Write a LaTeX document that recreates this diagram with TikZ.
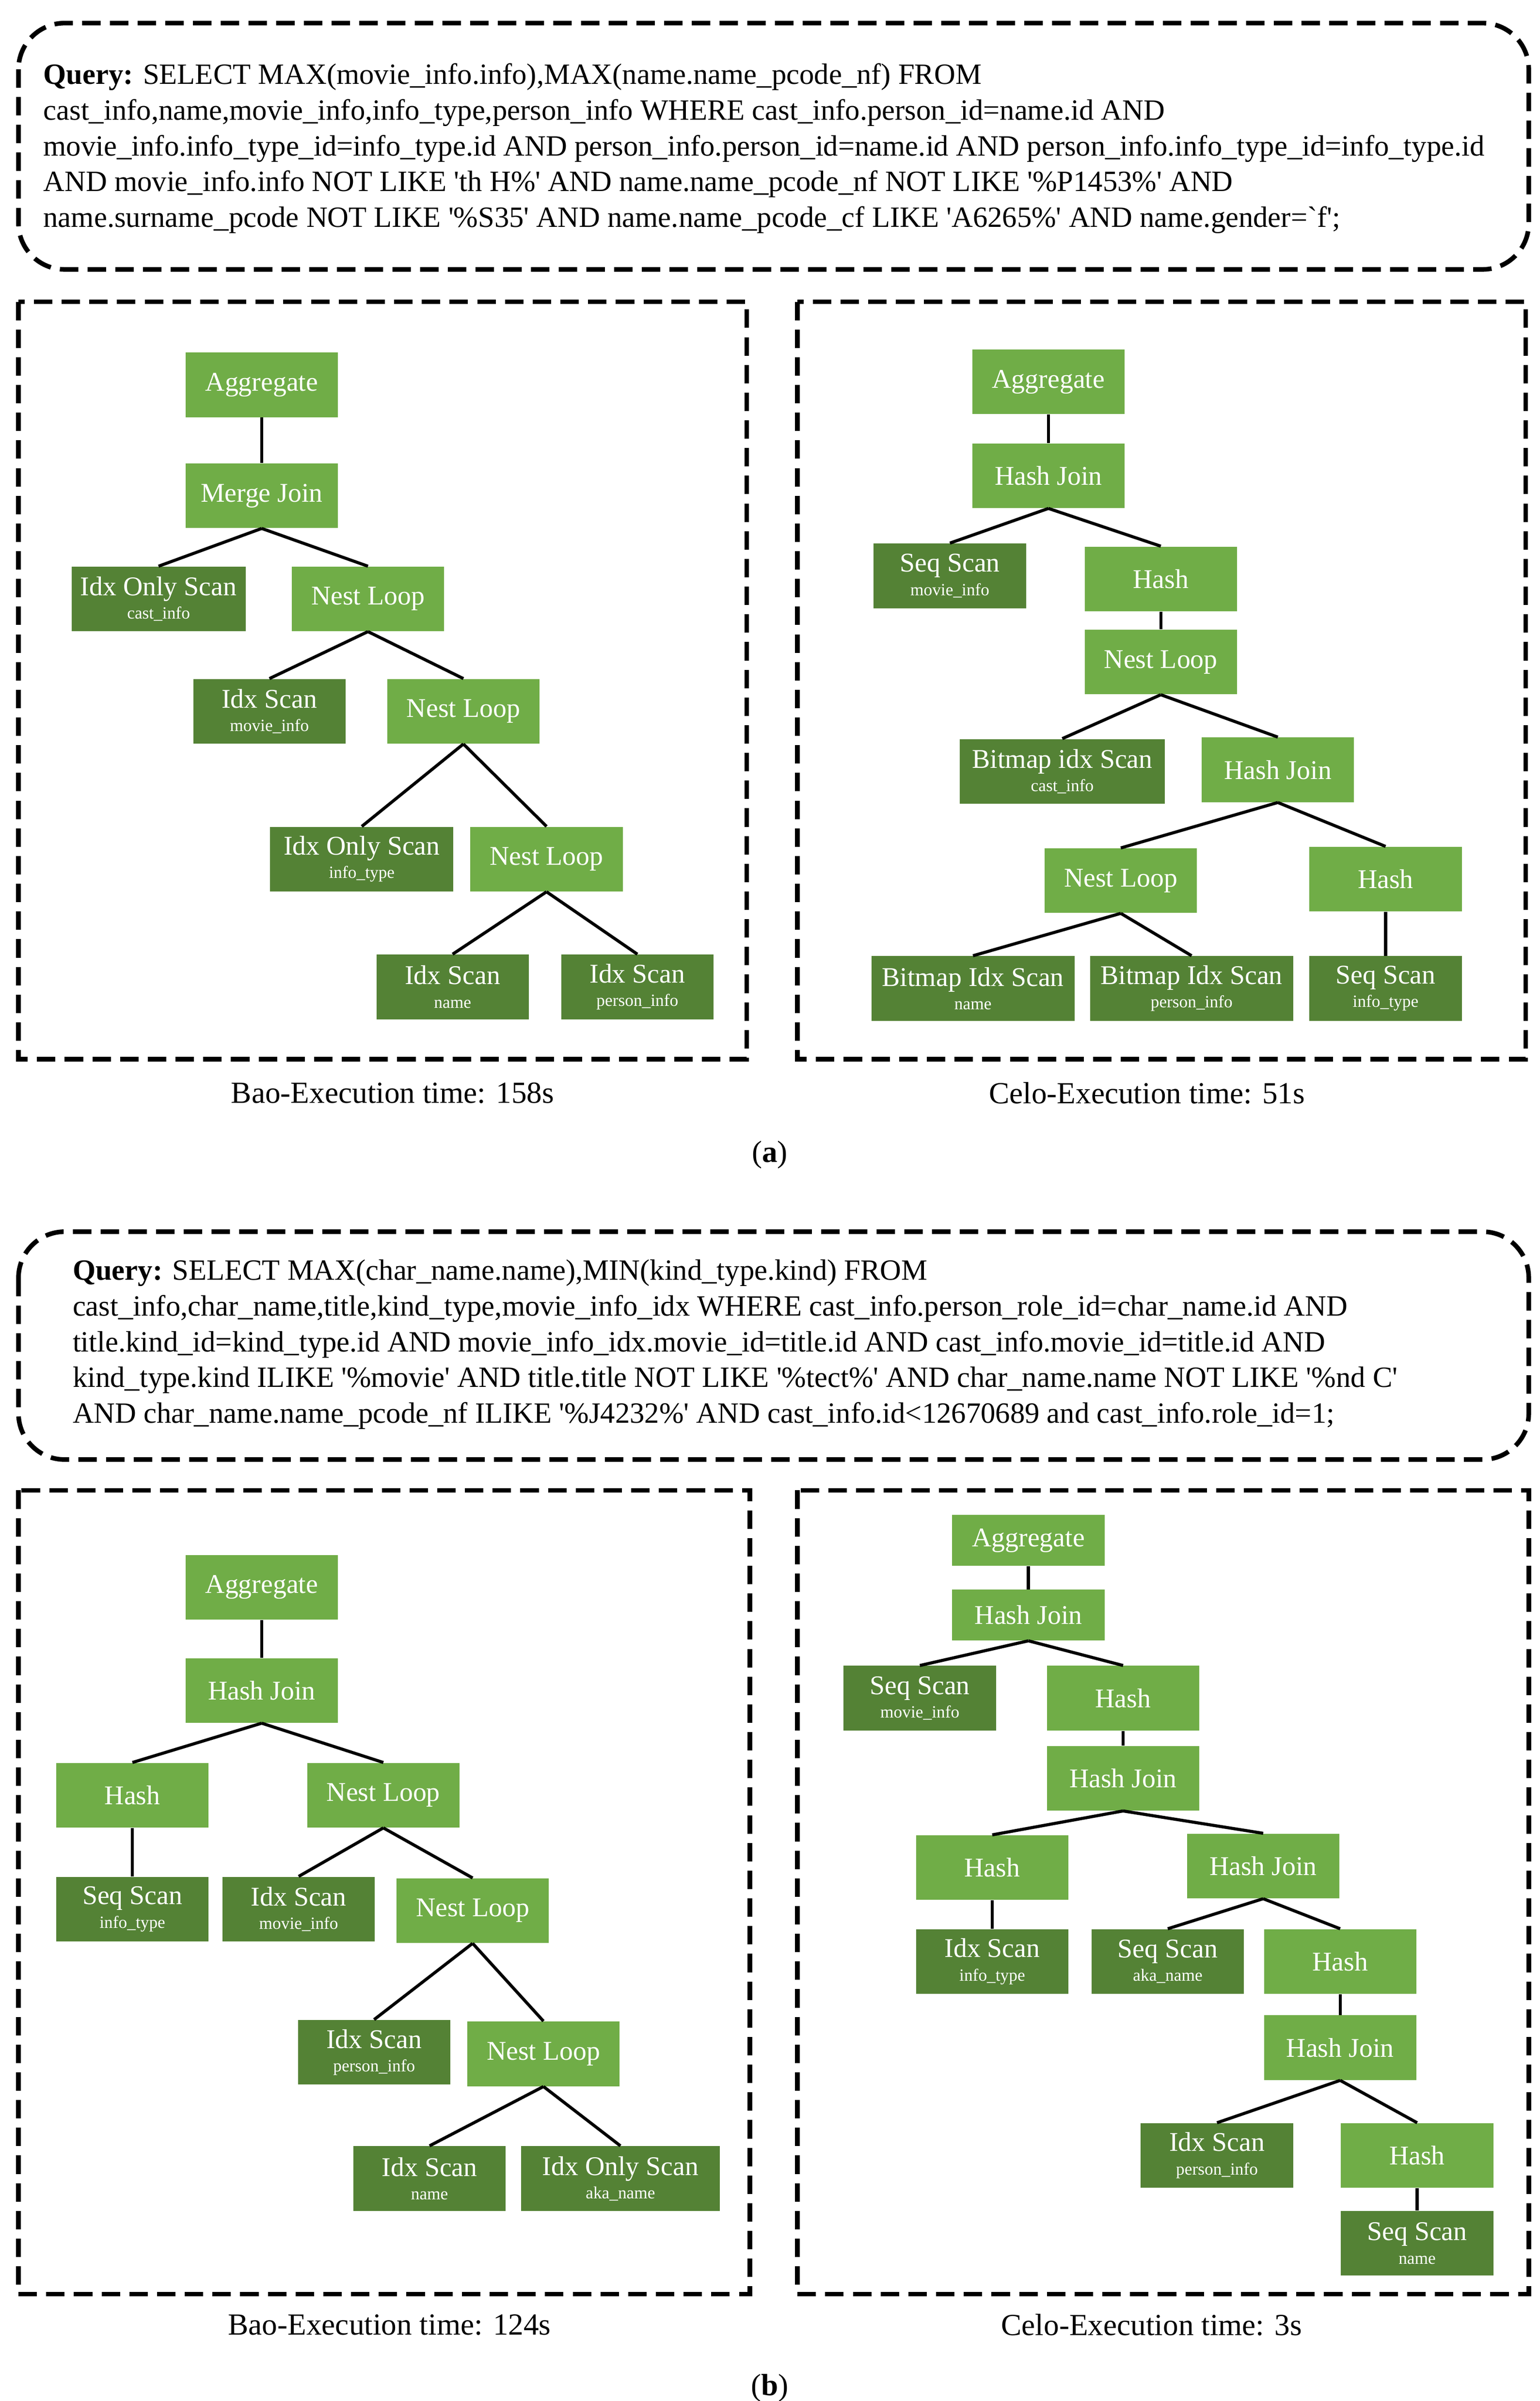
\documentclass[tikz,border=0pt]{standalone}
\usepackage{fontspec}
\setmainfont{Liberation Serif}
\usetikzlibrary{positioning}
\newcommand{\sq}{\textquotesingle}
\newcommand{\opsub}[2]{#1\\[-3pt]{\fontsize{9.5}{10}\selectfont #2}}
\tikzset{
  op/.style = {fill=opgreen, text=white, minimum width=29.7mm, minimum height=12.6mm,
    inner sep=0pt, align=center, font=\fontsize{15}{16}\selectfont},
  scan/.style = {op, fill=scangreen},
  flat/.style = {minimum height=9.9mm},
  edge/.style = {line width=0.6mm},
  frame/.style = {line width=0.9mm, dash pattern=on 3.6mm off 1.8mm},
  query/.style = {anchor=north west, inner sep=0pt, align=left, font=\fontsize{16.3}{19.8}\selectfont},
  caption/.style = {font=\fontsize{17}{20}\selectfont}
}
\definecolor{opgreen}{HTML}{70AD47}
\definecolor{scangreen}{HTML}{548235}
\begin{document}
\begin{tikzpicture}[x=0.3mm, y=-0.3mm]
\useasboundingbox (0,0) rectangle (1000,1559.5);
% (a) query and frames
\draw[frame, rounded corners=9mm] (12,15) rectangle (993,175);
\node[query] (qa) at (28,41) {\textbf{Query:} SELECT MAX(movie\_info.info),MAX(name.name\_pcode\_nf) FROM\\
cast\_info,name,movie\_info,info\_type,person\_info WHERE cast\_info.person\_id=name.id AND\\
movie\_info.info\_type\_id=info\_type.id AND person\_info.person\_id=name.id AND person\_info.info\_type\_id=info\_type.id\\
AND movie\_info.info NOT LIKE \sq th H\%\sq{} AND name.name\_pcode\_nf NOT LIKE \sq\%P1453\%\sq{} AND\\
name.surname\_pcode NOT LIKE \sq\%S35\sq{} AND name.name\_pcode\_cf LIKE \sq A6265\%\sq{} AND name.gender=\textasciigrave f\sq;};
\draw[frame] (12,196) rectangle (485,688);
\draw[frame] (518,196) rectangle (991,688);
\node[caption] (capBaoA) at (255,710) {Bao-Execution time: 158s};
\node[caption] (capCeloA) at (745,710) {Celo-Execution time: 51s};
\node[caption] (labA) at (500,750) {(\textbf{a})};

% (a) Bao plan
\node[op] (aggBA) at (170,250) {Aggregate};
\node[op] (mjBA) at (170,322) {Merge Join};
\node[scan, minimum width=33.9mm] (iosBA) at (103,389) {\opsub{Idx Only Scan}{cast\_info}};
\node[op] (nl1BA) at (239,389) {Nest Loop};
\node[scan] (isBA) at (175,462) {\opsub{Idx Scan}{movie\_info}};
\node[op] (nl2BA) at (301,462) {Nest Loop};
\node[scan, minimum width=35.7mm] (ios2BA) at (235,558) {\opsub{Idx Only Scan}{info\_type}};
\node[op] (nl3BA) at (355,558) {Nest Loop};
\node[scan] (is2BA) at (294,641) {\opsub{Idx Scan}{name}};
\node[scan] (is3BA) at (414,641) {\opsub{Idx Scan}{person\_info}};
\foreach \p/\c in {aggBA/mjBA, mjBA/iosBA, mjBA/nl1BA, nl1BA/isBA, nl1BA/nl2BA,
  nl2BA/ios2BA, nl2BA/nl3BA, nl3BA/is2BA, nl3BA/is3BA}
  \draw[edge] (\p.south) -- (\c.north);

% (a) Celo plan
\node[op] (aggCA) at (681,248) {Aggregate};
\node[op] (hj1CA) at (681,309) {Hash Join};
\node[scan] (ssCA) at (617,374) {\opsub{Seq Scan}{movie\_info}};
\node[op] (h1CA) at (754,376) {Hash};
\node[op] (nl1CA) at (754,430) {Nest Loop};
\node[scan, minimum width=39.9mm] (bisCA) at (690,501) {\opsub{Bitmap idx Scan}{cast\_info}};
\node[op] (hj2CA) at (830,500) {Hash Join};
\node[op] (nl2CA) at (728,572) {Nest Loop};
\node[op] (h2CA) at (900,571) {Hash};
\node[scan, minimum width=39.6mm] (bis2CA) at (632,642) {\opsub{Bitmap Idx Scan}{name}};
\node[scan, minimum width=39.6mm] (bis3CA) at (774,642) {\opsub{Bitmap Idx Scan}{person\_info}};
\node[scan] (ss2CA) at (900,642) {\opsub{Seq Scan}{info\_type}};
\foreach \p/\c in {aggCA/hj1CA, hj1CA/ssCA, hj1CA/h1CA, h1CA/nl1CA, nl1CA/bisCA, nl1CA/hj2CA,
  hj2CA/nl2CA, hj2CA/h2CA, nl2CA/bis2CA, nl2CA/bis3CA, h2CA/ss2CA}
  \draw[edge] (\p.south) -- (\c.north);

% (b) query and frames
\draw[frame, rounded corners=9mm] (12,800) rectangle (993,948);
\node[query] (qb) at (47,818) {\textbf{Query:} SELECT MAX(char\_name.name),MIN(kind\_type.kind) FROM\\
cast\_info,char\_name,title,kind\_type,movie\_info\_idx WHERE cast\_info.person\_role\_id=char\_name.id AND\\
title.kind\_id=kind\_type.id AND movie\_info\_idx.movie\_id=title.id AND cast\_info.movie\_id=title.id AND\\
kind\_type.kind ILIKE \sq\%movie\sq{} AND title.title NOT LIKE \sq\%tect\%\sq{} AND char\_name.name NOT LIKE \sq\%nd C\sq\\
AND char\_name.name\_pcode\_nf ILIKE \sq\%J4232\%\sq{} AND cast\_info.id<12670689 and cast\_info.role\_id=1;};
\draw[frame] (12,968) rectangle (487,1490);
\draw[frame] (518,968) rectangle (993,1490);
\node[caption] (capBaoB) at (253,1510) {Bao-Execution time: 124s};
\node[caption] (capCeloB) at (748,1510) {Celo-Execution time: 3s};
\node[caption] (labB) at (500,1551) {(\textbf{b})};

% (b) Bao plan
\node[op] (aggBB) at (170,1031) {Aggregate};
\node[op] (hjBB) at (170,1098) {Hash Join};
\node[op] (hBB) at (86,1166) {Hash};
\node[op] (nl1BB) at (249,1166) {Nest Loop};
\node[scan] (ssBB) at (86,1240) {\opsub{Seq Scan}{info\_type}};
\node[scan] (isBB) at (194,1240) {\opsub{Idx Scan}{movie\_info}};
\node[op] (nl2BB) at (307,1241) {Nest Loop};
\node[scan] (is2BB) at (243,1333) {\opsub{Idx Scan}{person\_info}};
\node[op] (nl3BB) at (353,1334) {Nest Loop};
\node[scan] (is3BB) at (279,1415) {\opsub{Idx Scan}{name}};
\node[scan, minimum width=38.7mm] (iosBB) at (403,1415) {\opsub{Idx Only Scan}{aka\_name}};
\foreach \p/\c in {aggBB/hjBB, hjBB/hBB, hjBB/nl1BB, hBB/ssBB, nl1BB/isBB, nl1BB/nl2BB,
  nl2BB/is2BB, nl2BB/nl3BB, nl3BB/is3BB, nl3BB/iosBB}
  \draw[edge] (\p.south) -- (\c.north);

% (b) Celo plan
\node[op, flat] (aggCB) at (668,1000.5) {Aggregate};
\node[op, flat] (hj1CB) at (668,1049) {Hash Join};
\node[scan] (ssCB) at (597.5,1103) {\opsub{Seq Scan}{movie\_info}};
\node[op] (h1CB) at (729.5,1103) {Hash};
\node[op] (hj2CB) at (729.5,1155) {Hash Join};
\node[op] (h2CB) at (644.5,1213) {Hash};
\node[op] (hj3CB) at (820.5,1212) {Hash Join};
\node[scan] (isCB) at (644.5,1274) {\opsub{Idx Scan}{info\_type}};
\node[scan] (ss2CB) at (758.5,1274) {\opsub{Seq Scan}{aka\_name}};
\node[op] (h3CB) at (870.5,1274) {Hash};
\node[op] (hj4CB) at (870.5,1330) {Hash Join};
\node[scan] (is2CB) at (790.5,1400) {\opsub{Idx Scan}{person\_info}};
\node[op] (h4CB) at (920.5,1400) {Hash};
\node[scan] (ss3CB) at (920.5,1457) {\opsub{Seq Scan}{name}};
\foreach \p/\c in {aggCB/hj1CB, hj1CB/ssCB, hj1CB/h1CB, h1CB/hj2CB, hj2CB/h2CB, hj2CB/hj3CB,
  h2CB/isCB, hj3CB/ss2CB, hj3CB/h3CB, h3CB/hj4CB, hj4CB/is2CB, hj4CB/h4CB, h4CB/ss3CB}
  \draw[edge] (\p.south) -- (\c.north);
\end{tikzpicture}
\end{document}
